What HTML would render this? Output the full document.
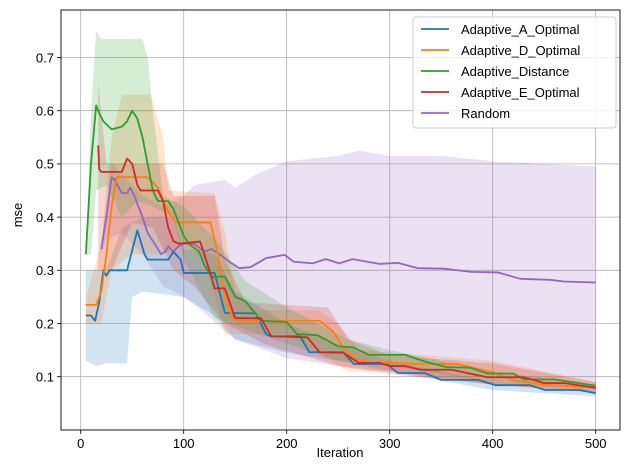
<!DOCTYPE html>
<html><head><meta charset="utf-8"><style>
body{margin:0;background:#fff}
svg{display:block;font-family:"Liberation Sans","DejaVu Sans",sans-serif}
</style></head><body>
<svg width="630" height="470" viewBox="0 0 630 470">
<rect width="630" height="470" fill="#fff"/>
<!-- grid -->
<g stroke="#b0b0b0" stroke-width="0.8">
<line x1="80.7" y1="10" x2="80.7" y2="430"/><line x1="183.7" y1="10" x2="183.7" y2="430"/><line x1="286.7" y1="10" x2="286.7" y2="430"/><line x1="389.7" y1="10" x2="389.7" y2="430"/><line x1="492.7" y1="10" x2="492.7" y2="430"/><line x1="595.7" y1="10" x2="595.7" y2="430"/>
<line x1="61" y1="376.7" x2="620" y2="376.7"/><line x1="61" y1="323.5" x2="620" y2="323.5"/><line x1="61" y1="270.3" x2="620" y2="270.3"/><line x1="61" y1="217.1" x2="620" y2="217.1"/><line x1="61" y1="163.9" x2="620" y2="163.9"/><line x1="61" y1="110.7" x2="620" y2="110.7"/><line x1="61" y1="57.5" x2="620" y2="57.5"/>
</g>
<g transform="translate(80.7,429.9) scale(1.03,-532)">
<!-- bands -->
<polygon fill="#9467bd" fill-opacity="0.2" points="20,0.35 25,0.43 30,0.5 45,0.47 60,0.44 80,0.42 100,0.44 110,0.46 140,0.47 150,0.455 170,0.48 200,0.505 250,0.515 270,0.525 300,0.515 350,0.515 400,0.505 450,0.5 500,0.495 500,0.07 400,0.085 300,0.11 250,0.12 200,0.135 150,0.17 120,0.22 100,0.25 80,0.27 60,0.33 40,0.37 25,0.36 20,0.33"/>
<polygon fill="#1f77b4" fill-opacity="0.2" points="5,0.3 25,0.3 40,0.38 60,0.4 90,0.4 100,0.34 130,0.33 150,0.26 200,0.2 250,0.16 300,0.13 400,0.09 500,0.075 500,0.063 400,0.075 300,0.11 250,0.13 200,0.145 150,0.17 130,0.215 100,0.25 60,0.26 50,0.25 45,0.125 25,0.125 15,0.12 5,0.13"/>
<polygon fill="#ff7f0e" fill-opacity="0.2" points="5,0.25 20,0.35 30,0.55 40,0.63 68,0.63 80,0.55 85,0.45 130,0.445 140,0.37 150,0.26 170,0.225 230,0.225 250,0.2 270,0.15 400,0.13 500,0.09 500,0.075 400,0.085 300,0.11 260,0.11 200,0.18 140,0.18 120,0.32 100,0.35 80,0.33 50,0.33 30,0.3 20,0.2 5,0.2"/>
<polygon fill="#d62728" fill-opacity="0.2" points="17,0.65 25,0.5 60,0.5 80,0.5 90,0.44 130,0.44 140,0.32 160,0.24 240,0.23 260,0.17 300,0.14 400,0.125 500,0.09 500,0.07 400,0.085 300,0.105 250,0.12 180,0.16 140,0.2 110,0.27 90,0.3 70,0.38 50,0.39 30,0.3 17,0.3"/>
<polygon fill="#2ca02c" fill-opacity="0.2" points="5,0.33 10,0.6 15,0.75 20,0.735 60,0.735 65,0.7 70,0.6 80,0.44 100,0.42 130,0.36 160,0.28 200,0.23 260,0.17 300,0.15 400,0.11 500,0.085 500,0.075 400,0.09 300,0.12 250,0.13 180,0.175 130,0.21 100,0.32 90,0.4 70,0.42 55,0.43 40,0.4 25,0.46 15,0.45 10,0.33"/>
<g fill="none" stroke-width="1.8" stroke-linejoin="round" vector-effect="non-scaling-stroke">
<polyline vector-effect="non-scaling-stroke" stroke="#9467bd" points="20,0.34 25,0.4 30,0.475 33,0.47 40,0.445 45,0.445 48,0.455 52,0.44 60,0.4 65,0.37 70,0.355 75,0.34 78,0.33 82,0.335 85,0.345 90,0.335 95,0.345 100,0.35 110,0.35 120,0.335 127,0.34 135,0.33 145,0.315 154,0.304 165,0.306 180,0.323 198,0.329 207,0.316 225,0.313 238,0.321 251,0.313 264,0.321 290,0.312 308,0.314 327,0.304 353,0.303 379,0.297 405,0.296 427,0.284 456,0.282 469,0.279 500,0.277"/>
<polyline vector-effect="non-scaling-stroke" stroke="#1f77b4" points="5,0.215 10,0.215 14,0.205 18,0.24 22,0.3 25,0.29 28,0.3 45,0.3 55,0.375 62,0.33 65,0.32 85,0.32 90,0.335 97,0.32 100,0.295 130,0.295 136,0.25 140,0.22 170,0.219 180,0.18 185,0.176 213,0.176 222,0.146 255,0.146 265,0.124 297,0.124 308,0.107 334,0.107 350,0.094 386,0.094 403,0.084 436,0.084 451,0.075 484,0.075 500,0.069"/>
<polyline vector-effect="non-scaling-stroke" stroke="#ff7f0e" points="5,0.235 15,0.235 20,0.26 25,0.33 30,0.42 35,0.475 65,0.475 75,0.455 85,0.41 92,0.39 126,0.39 132,0.34 140,0.25 148,0.21 155,0.205 232,0.205 245,0.185 255,0.155 265,0.135 280,0.126 300,0.126 330,0.124 366,0.124 400,0.108 420,0.093 450,0.085 500,0.08"/>
<polyline vector-effect="non-scaling-stroke" stroke="#2ca02c" points="5,0.33 10,0.5 15,0.61 18,0.595 22,0.58 30,0.565 40,0.57 45,0.58 50,0.6 55,0.585 60,0.55 65,0.5 70,0.45 75,0.43 85,0.43 90,0.415 95,0.39 100,0.365 105,0.35 115,0.335 120,0.31 127,0.288 140,0.288 150,0.25 160,0.242 175,0.205 200,0.203 210,0.18 230,0.178 250,0.157 265,0.155 280,0.141 315,0.141 335,0.128 355,0.118 378,0.117 395,0.106 420,0.106 430,0.095 460,0.095 500,0.083"/>
<polyline vector-effect="non-scaling-stroke" stroke="#d62728" points="17,0.535 18,0.49 20,0.485 40,0.485 45,0.51 50,0.5 55,0.46 58,0.45 75,0.45 80,0.43 85,0.38 90,0.355 95,0.35 116,0.354 125,0.3 130,0.266 140,0.266 150,0.21 175,0.21 185,0.176 220,0.174 232,0.146 255,0.145 270,0.126 290,0.126 300,0.12 315,0.12 330,0.113 360,0.113 395,0.099 430,0.099 450,0.088 470,0.088 500,0.079"/>
</g>
</g>
<!-- axes -->
<rect x="61" y="10" width="559" height="420" fill="none" stroke="#000" stroke-width="0.9"/>
<g stroke="#000" stroke-width="0.8">
<line x1="80.7" y1="430" x2="80.7" y2="434"/><line x1="183.7" y1="430" x2="183.7" y2="434"/><line x1="286.7" y1="430" x2="286.7" y2="434"/><line x1="389.7" y1="430" x2="389.7" y2="434"/><line x1="492.7" y1="430" x2="492.7" y2="434"/><line x1="595.7" y1="430" x2="595.7" y2="434"/>
<line x1="57" y1="376.7" x2="61" y2="376.7"/><line x1="57" y1="323.5" x2="61" y2="323.5"/><line x1="57" y1="270.3" x2="61" y2="270.3"/><line x1="57" y1="217.1" x2="61" y2="217.1"/><line x1="57" y1="163.9" x2="61" y2="163.9"/><line x1="57" y1="110.7" x2="61" y2="110.7"/><line x1="57" y1="57.5" x2="61" y2="57.5"/>
</g>
<g font-size="13" fill="#000" text-anchor="middle">
<text x="80.7" y="448">0</text><text x="183.7" y="448">100</text><text x="286.7" y="448">200</text><text x="389.7" y="448">300</text><text x="492.7" y="448">400</text><text x="595.7" y="448">500</text>
<text x="340" y="457">Iteration</text>
<text transform="translate(22,215) rotate(-90)">mse</text>
</g>
<g font-size="13" fill="#000" text-anchor="end">
<text x="54" y="381.5">0.1</text><text x="54" y="328.3">0.2</text><text x="54" y="275.1">0.3</text><text x="54" y="221.9">0.4</text><text x="54" y="168.7">0.5</text><text x="54" y="115.5">0.6</text><text x="54" y="62.3">0.7</text>
</g>
<!-- legend -->
<rect x="413" y="17" width="203" height="111" rx="3" fill="#fff" fill-opacity="0.8" stroke="#ccc"/>
<g stroke-width="1.8">
<line x1="421" y1="29" x2="449" y2="29" stroke="#1f77b4"/>
<line x1="421" y1="50" x2="449" y2="50" stroke="#ff7f0e"/>
<line x1="421" y1="71" x2="449" y2="71" stroke="#2ca02c"/>
<line x1="421" y1="92" x2="449" y2="92" stroke="#d62728"/>
<line x1="421" y1="113" x2="449" y2="113" stroke="#9467bd"/>
</g>
<g font-size="13" fill="#000">
<text x="461" y="34">Adaptive_A_Optimal</text>
<text x="461" y="55">Adaptive_D_Optimal</text>
<text x="461" y="76">Adaptive_Distance</text>
<text x="461" y="97">Adaptive_E_Optimal</text>
<text x="461" y="118">Random</text>
</g>
</svg>
</body></html>
